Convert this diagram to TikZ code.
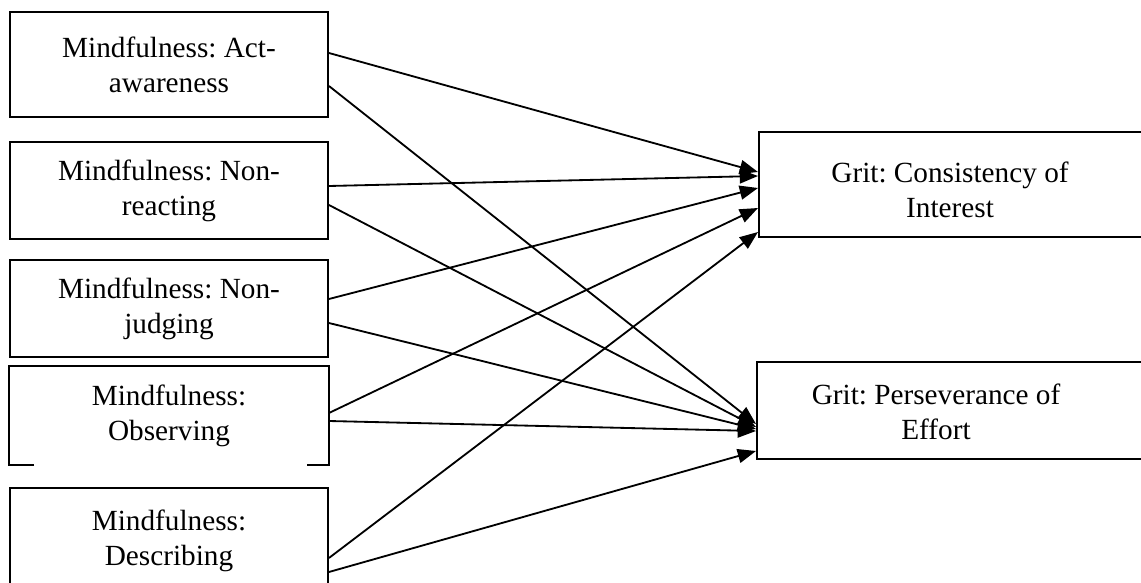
\documentclass[tikz,border=0pt]{standalone}
\usepackage{fontspec}
\setmainfont{Liberation Serif}
\usetikzlibrary{positioning,arrows.meta,calc}
\frenchspacing
\begin{document}
\begin{tikzpicture}[x=0.025cm,y=-0.025cm,
    mbox/.style={draw,line width=1.3pt,minimum width=7.95cm,minimum height=2.425cm,
      align=center,inner sep=0pt,font=\fontsize{20.8}{25}\selectfont},
    gbox/.style={draw,line width=1.3pt,minimum width=12.5cm,anchor=west},
    gtxt/.style={align=center,inner sep=0pt,font=\fontsize{20.8}{25}\selectfont},
    link/.style={line width=1.3pt,-{Triangle[length=13pt,width=10pt]}}]
  \useasboundingbox (0,0) rectangle (1141,583);
  % Riquadri Mindfulness a sinistra
  \node[mbox,minimum height=2.625cm] (act) at (169,64.5) {Mindfulness: Act-\\awareness};
  \node[mbox] (nreact) at (169,190.5) {Mindfulness: Non-\\reacting};
  \node[mbox] (njudge) at (169,308.5) {Mindfulness: Non-\\judging};
  \node[mbox,draw=none] (obs) at (169,415.5) {Mindfulness:\\Observing};
  \node[mbox,minimum height=2.65cm] (descr) at (169,541) {Mindfulness:\\Describing};
  % bordo di Observing, aperto in basso
  \draw[line width=1.3pt] ($(obs.south west)+(25,0)$) -- (obs.south west) -- (obs.north west)
    -- (obs.north east) -- (obs.south east) -- ($(obs.south east)+(-22,0)$);
  % Riquadri Grit a destra
  \node[gbox,minimum height=2.625cm] (cons) at (758,184.5) {};
  \node[gtxt] (constxt) at (950,190) {Grit: Consistency of\\Interest};
  \node[gbox,minimum height=2.425cm] (pers) at (756,410.5) {};
  \node[gtxt] (perstxt) at (936,412) {Grit: Perseverance of\\Effort};
  % Frecce verso Consistency of Interest
  \draw[link] ($(act.east)+(0,-11.5)$) -- ($(cons.west)+(0,-12.5)$);
  \draw[link] ($(nreact.east)+(0,-4.5)$) -- ($(cons.west)+(0,-8.5)$);
  \draw[link] ($(njudge.east)+(0,-9.5)$) -- ($(cons.west)+(0,3.5)$);
  \draw[link] ($(obs.east)+(0,-2.5)$) -- ($(cons.west)+(0,23.5)$);
  \draw[link] ($(descr.east)+(0,17)$) -- ($(cons.west)+(0,47.5)$);
  % Frecce verso Perseverance of Effort
  \draw[link] ($(act.east)+(0,21.5)$) -- ($(pers.west)+(0,13.5)$);
  \draw[link] ($(nreact.east)+(0,14.5)$) -- ($(pers.west)+(0,16.5)$);
  \draw[link] ($(njudge.east)+(0,14.5)$) -- ($(pers.west)+(0,18.5)$);
  \draw[link] ($(obs.east)+(0,5.5)$) -- ($(pers.west)+(0,20.5)$);
  \draw[link] ($(descr.east)+(0,31)$) -- ($(pers.west)+(0,40.5)$);
\end{tikzpicture}
\end{document}
